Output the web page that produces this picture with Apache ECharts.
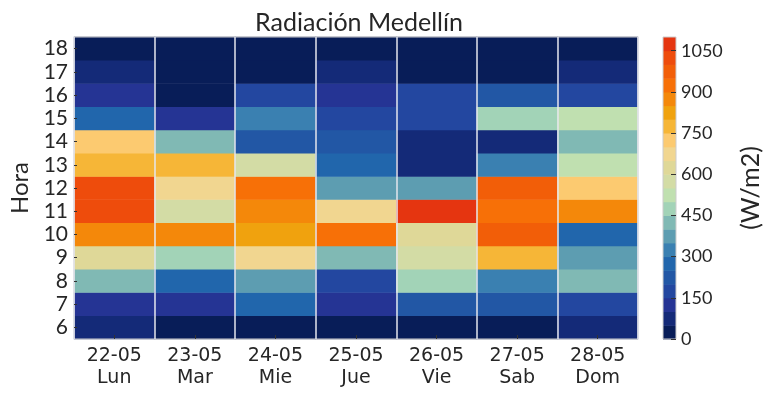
<!DOCTYPE html>
<html>
<head>
<meta charset="utf-8">
<script src="https://cdn.jsdelivr.net/npm/echarts@6/dist/echarts.min.js"></script>
<style>html,body{margin:0;padding:0;background:#fff}#c{width:764px;height:395px}</style>
</head>
<body>
<div id="c"></div>
<script>
const days = ['22-05','23-05','24-05','25-05','26-05','27-05','28-05'];
const dayNames = ['Lun','Mar','Mie','Jue','Vie','Sab','Dom'];
const hours = ['6','7','8','9','10','11','12','13','14','15','16','17','18'];
// values per day, hour 6 .. 18 (W/m2)
const lun = [75,125,425,625,875,1025,1025,775,725,275,125,75,25];
const mar = [25,125,275,475,875,575,675,775,425,125,25,25,25];
const mie = [25,275,375,675,825,875,925,575,225,325,175,25,25];
const jue = [25,125,175,425,925,675,375,275,225,175,125,75,25];
const vie = [25,225,475,575,625,1075,375,75,75,175,175,25,25];
const sab = [25,225,325,775,975,925,975,325,75,475,225,25,25];
const dom = [75,175,425,375,275,875,725,525,425,525,175,75,25];
const colorbarTicks = [0,150,300,450,600,750,900,1050];
const binSize = 50;
const vmax = 1100;
const palette = ['#081d58','#142a78','#253494','#2347a0','#2257a5','#2166ac','#3a80b1','#5d9db1',
  '#80b9b4','#a2d3b7','#c0e0b0','#d3dca5','#dfd898','#f1d690','#fcca70','#f6b637',
  '#f0a20e','#f4880a','#f77007','#f25e08','#ee4c0c','#e53510'];

const series = [lun, mar, mie, jue, vie, sab, dom];
const heatData = [];
series.forEach((vals, d) => vals.forEach((v, h) => heatData.push([d, h, v])));
const pieces = palette.map((c, i) => ({min: i * binSize, max: (i + 1) * binSize, color: c}));
const barData = palette.map((c, i) => [0, i * binSize, (i + 1) * binSize]);

const chart = echarts.init(document.getElementById('c'));
const txt = '#262626';
chart.setOption({
  animation: false,
  title: {
    text: 'Radiación Medellín', left: 354, top: 5, textAlign: 'center',
    textStyle: {fontFamily: 'Lato', fontSize: 25, fontWeight: 'normal', color: txt}
  },
  grid: [
    {left: 70, top: 37, width: 568, height: 302, show: true, borderColor: '#cccccc', borderWidth: 1, z: 10},
    {left: 663, top: 37, width: 14, height: 302, show: true, borderColor: '#cccccc', borderWidth: 1, z: 10}
  ],
  xAxis: [
    {
      type: 'category', gridIndex: 0, data: days.map((d, i) => d + '\n' + dayNames[i]), z: 11,
      axisLine: {show: false},
      axisTick: {show: true, inside: true, alignWithLabel: true, length: 4, lineStyle: {color: '#333'}},
      splitLine: {show: true, lineStyle: {color: '#e4e6ee', width: 1.5}},
      axisLabel: {fontFamily: '"DejaVu Sans", sans-serif', fontSize: 19, lineHeight: 22, color: txt, margin: 6, interval: 0}
    },
    {type: 'category', gridIndex: 1, data: ['cb'], show: false}
  ],
  yAxis: [
    {
      type: 'category', gridIndex: 0, data: hours, z: 11,
      axisLine: {show: false},
      axisTick: {show: true, inside: true, alignWithLabel: true, length: 3, interval: 0, lineStyle: {color: '#333'}},
      splitLine: {show: false},
      axisLabel: {fontFamily: 'Lato', fontSize: 21, color: txt, margin: 6, interval: 0},
      name: 'Hora', nameLocation: 'middle', nameGap: 42, nameRotate: 90,
      nameTextStyle: {fontFamily: 'Lato', fontSize: 24, color: txt}
    },
    {
      type: 'value', gridIndex: 1, min: 0, max: vmax, position: 'right', z: 11,
      axisLine: {show: false},
      splitLine: {show: false},
      axisTick: {show: true, inside: true, length: 5, customValues: colorbarTicks, lineStyle: {color: '#333'}},
      axisLabel: {fontFamily: 'Lato', fontSize: 18, color: txt, margin: 5, customValues: colorbarTicks,
        formatter: v => String(v)},
      name: '(W/m2)', nameLocation: 'middle', nameGap: 62, nameRotate: 90,
      nameTextStyle: {fontFamily: 'Lato', fontSize: 25, color: txt}
    }
  ],
  visualMap: {
    type: 'piecewise', show: false, seriesIndex: 0, dimension: 2, pieces: pieces
  },
  series: [
    {
      type: 'heatmap', xAxisIndex: 0, yAxisIndex: 0, data: heatData,
      itemStyle: {borderWidth: 0}, emphasis: {disabled: true}
    },
    {
      type: 'custom', xAxisIndex: 1, yAxisIndex: 1, data: barData,
      encode: {x: 0, y: [1, 2]},
      renderItem: function (params, api) {
        const a = api.coord([api.value(0), api.value(1)]);
        const b = api.coord([api.value(0), api.value(2)]);
        const w = api.size([1, 0])[0];
        return {
          type: 'rect',
          shape: {x: a[0] - w / 2, y: b[1], width: w, height: a[1] - b[1] + 0.5},
          style: {fill: palette[params.dataIndex]}
        };
      }
    }
  ]
});
</script>
</body>
</html>
